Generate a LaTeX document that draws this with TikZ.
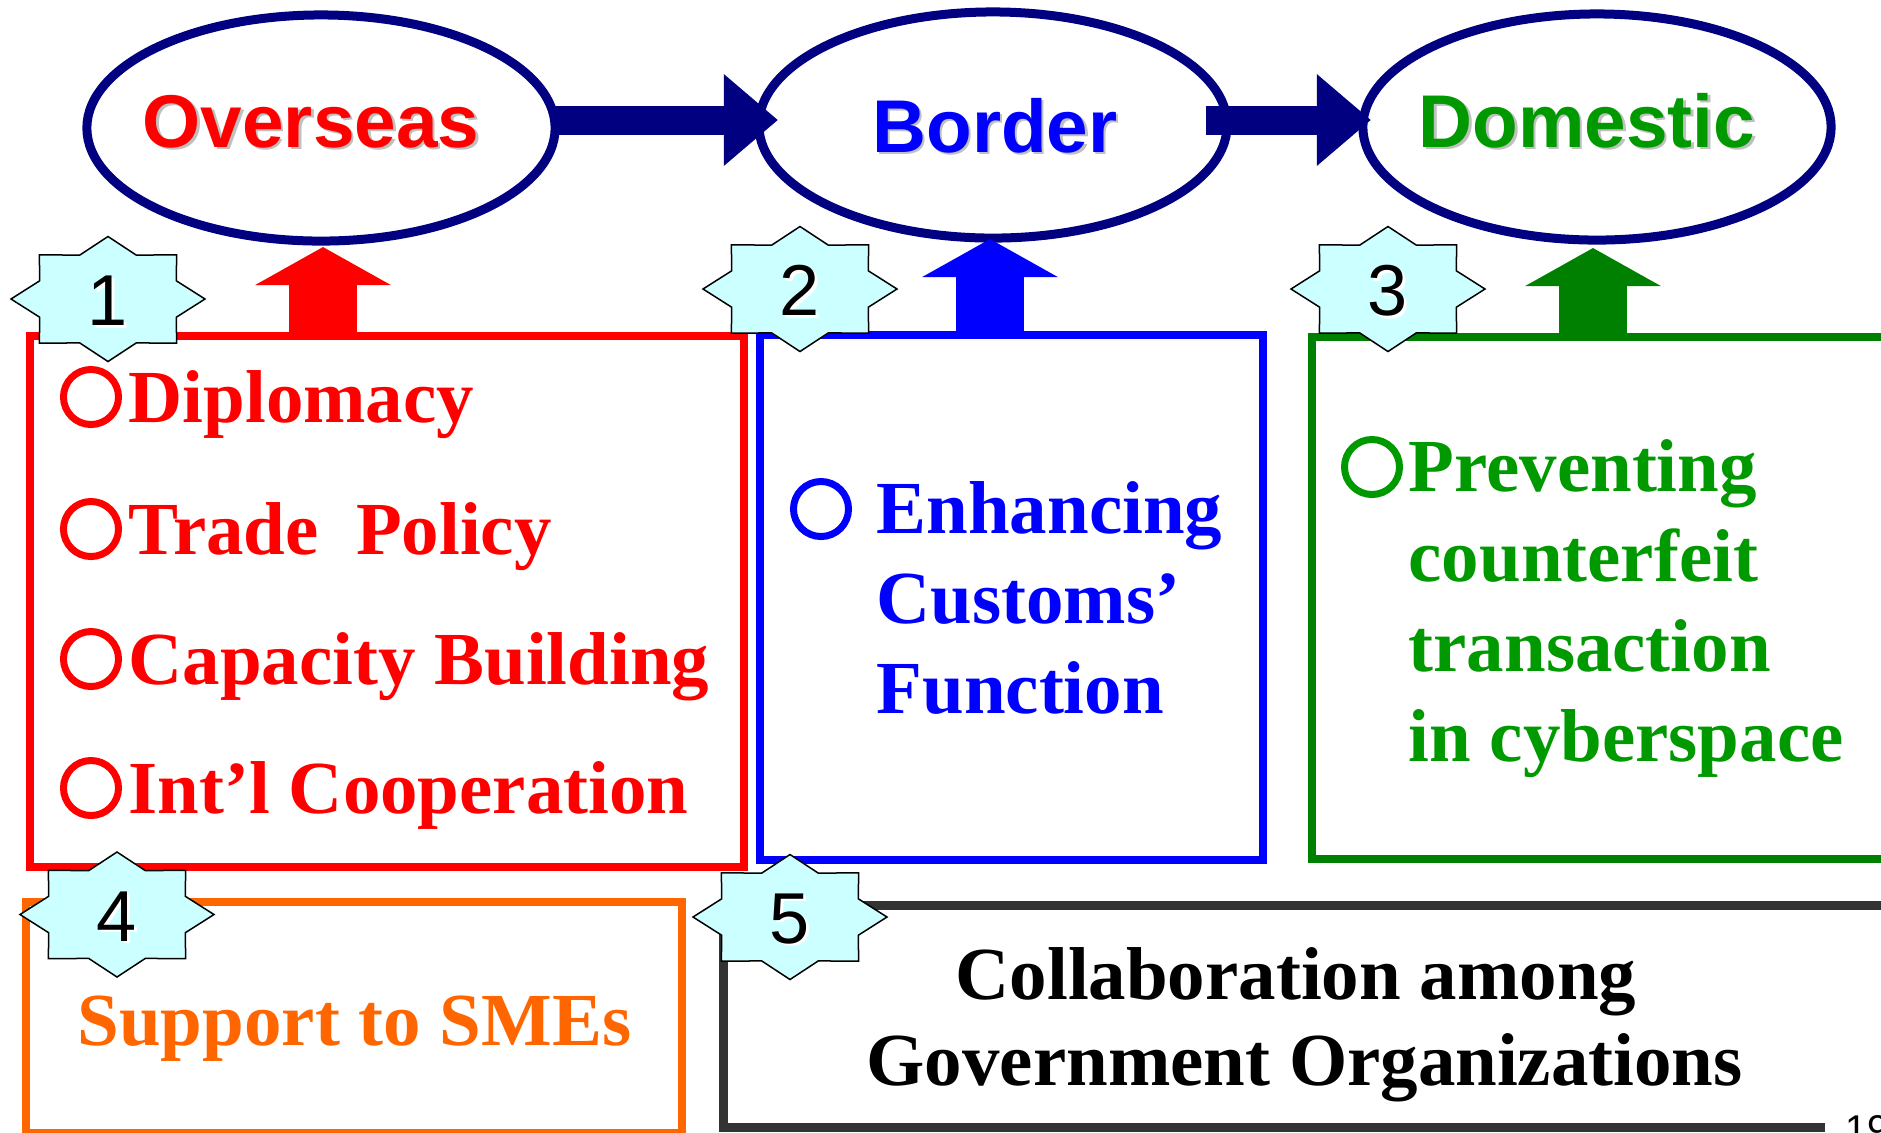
\documentclass[tikz,border=0pt]{standalone}
\usepackage{fontspec}
\setmainfont{Liberation Serif}
\newfontfamily\labelfont{Liberation Sans}
\usetikzlibrary{arrows.meta,shapes.geometric}
\definecolor{navyline}{HTML}{000080}
\definecolor{redline}{HTML}{FF0000}
\definecolor{blueline}{HTML}{0000FF}
\definecolor{greenline}{HTML}{009900}
\definecolor{greenarrow}{HTML}{008000}
\definecolor{orangeline}{HTML}{FF6600}
\definecolor{darkline}{HTML}{333333}
\definecolor{starfill}{HTML}{CCFFFF}
\definecolor{shadegray}{HTML}{C0C0C0}
\newcommand{\shadowed}[2]{\rlap{\kern.7pt\raisebox{-.7pt}{\color{#1}#2}}#2}
\tikzset{
  place/.style={draw=navyline,line width=0.09cm,ellipse,inner sep=0pt,minimum width=4.68cm,minimum height=2.26cm},
  placetext/.style={inner sep=0pt,font=\labelfont\bfseries\fontsize{21.25}{25}\selectfont},
  box/.style={draw=#1,line width=0.08cm,anchor=north west,inner sep=0pt,outer sep=0pt},
  itemtext/.style={inner sep=0pt,anchor=base west,font=\bfseries\fontsize{21.3}{25}\selectfont,text=#1},
  bullet/.style={circle,draw=#1,line width=0.07cm,inner sep=0pt,minimum size=0.55cm},
  sidearrow/.style={draw=navyline,line width=0.29cm,-{Triangle[length=0.54cm,width=0.88cm,fill=navyline]}},
  uparrow/.style={draw=#1,line width=0.68cm,-{Triangle[length=0.38cm,width=1.34cm,fill=#1]}},
  numstar/.pic={
    \draw[black,fill=starfill,line width=0.015cm,line join=miter]
      (0:97 and 62.5) \foreach \a in {0,45,...,315} { -- (\a+22.5:74 and 47.5) -- (\a+45:97 and 62.5) } -- cycle;
    \node[inner sep=0pt,font=\labelfont\fontsize{20.5}{25}\selectfont] (digit) at (0,-3) {\shadowed{white}{#1}};
  }
}
\begin{document}
\begin{tikzpicture}[x=0.01cm,y=0.01cm]
    \useasboundingbox (0,0) rectangle (1881,-1132);
    \clip (0,0) rectangle (1881,-1132);
    % places along the route
    \node[place] (overseas) at (321,-128) {};
    \node[place] (border) at (993,-125) {};
    \node[place] (domestic) at (1597,-127) {};
    \node[placetext,text=redline] (overseaslabel) at (311,-123) {\shadowed{shadegray}{Overseas}};
    \node[placetext,text=blueline] (borderlabel) at (995,-127) {\shadowed{shadegray}{Border}};
    \node[placetext,text=greenline] (domesticlabel) at (1587,-122) {\shadowed{shadegray}{Domestic}};
    % boxes
    \node[box=redline,minimum width=7.14cm,minimum height=5.31cm] (redbox) at (30,-336) {};
    \node[box=blueline,minimum width=5.03cm,minimum height=5.25cm] (bluebox) at (760,-335) {};
    \node[box=greenarrow,minimum width=5.88cm,minimum height=5.22cm] (greenbox) at (1312,-337) {};
    \node[box=orangeline,minimum width=6.56cm,minimum height=2.31cm] (orangebox) at (26,-902) {};
    \node[box=darkline,line width=0.09cm,minimum width=11.77cm,minimum height=2.22cm] (darkbox) at (723.5,-905.5) {};
    % arrows
    \coordinate (tipborder) at (778,-120);
    \coordinate (tipdomestic) at (1371,-120);
    \coordinate (tipred) at (323,-247);
    \coordinate (tipblue) at (990,-239);
    \coordinate (tipgreen) at (1593,-248);
    \draw[sidearrow] ([xshift=-0.06cm]overseas.east |- tipborder) -- (tipborder);
    \draw[sidearrow] ([xshift=-0.26cm]border.east |- tipdomestic) -- (tipdomestic);
    \draw[uparrow=redline] (redbox.north -| tipred) -- (tipred);
    \draw[uparrow=blueline] (bluebox.north -| tipblue) -- (tipblue);
    \draw[uparrow=greenarrow] (greenbox.north -| tipgreen) -- (tipgreen);
    % overseas items
    \node[bullet=redline] (diplomacybullet) at (91,-397) {};
    \node[bullet=redline] (tradebullet) at (91,-529) {};
    \node[bullet=redline] (capacitybullet) at (91,-659) {};
    \node[bullet=redline] (intlbullet) at (91,-788) {};
    \node[itemtext=redline] (diplomacy) at (128,-422) {Diplomacy};
    \node[itemtext=redline] (trade) at (128,-554) {T{}rade\ \ Policy};
    \node[itemtext=redline] (capacity) at (128,-684) {Capacity Building};
    \node[itemtext=redline] (intl) at (128,-813) {Int’l Cooperation};
    % border item
    \node[bullet=blueline] (customsbullet) at (821,-509) {};
    \node[itemtext=blueline] (enhancing) at (876,-533) {Enhancing};
    \node[itemtext=blueline] (customs) at (876,-623) {Customs’};
    \node[itemtext=blueline] (function) at (876,-713) {Function};
    % domestic item
    \node[bullet=greenline] (preventbullet) at (1372,-467) {};
    \node[itemtext=greenline] (preventing) at (1408,-491) {Preventing};
    \node[itemtext=greenline] (counterfeit) at (1408,-581) {counterfeit};
    \node[itemtext=greenline] (transaction) at (1408,-671) {transaction};
    \node[itemtext=greenline] (cyberspace) at (1408,-761) {in cyberspace};
    % lower boxes
    \node[itemtext=orangeline] (support) at (77,-1045) {Support to SMEs};
    \node[itemtext=black] (collaboration) at (955,-999) {Collaboration among};
    \node[itemtext=black] (government) at (866,-1085) {Government Organizations};
    % numbers
    \pic (starone) at (108,-299) {numstar=1};
    \pic (startwo) at (800,-289) {numstar=2};
    \pic (starthree) at (1388,-289) {numstar=3};
    \pic (starfour) at (117,-914.5) {numstar=4};
    \pic (starfive) at (790,-917) {numstar=5};
    \node[fill=white,anchor=base west,inner ysep=4pt,inner xsep=0.21cm,font=\labelfont\fontsize{11}{13}\selectfont] (pagenumber) at (1824,-1142) {19};
\end{tikzpicture}
\end{document}
